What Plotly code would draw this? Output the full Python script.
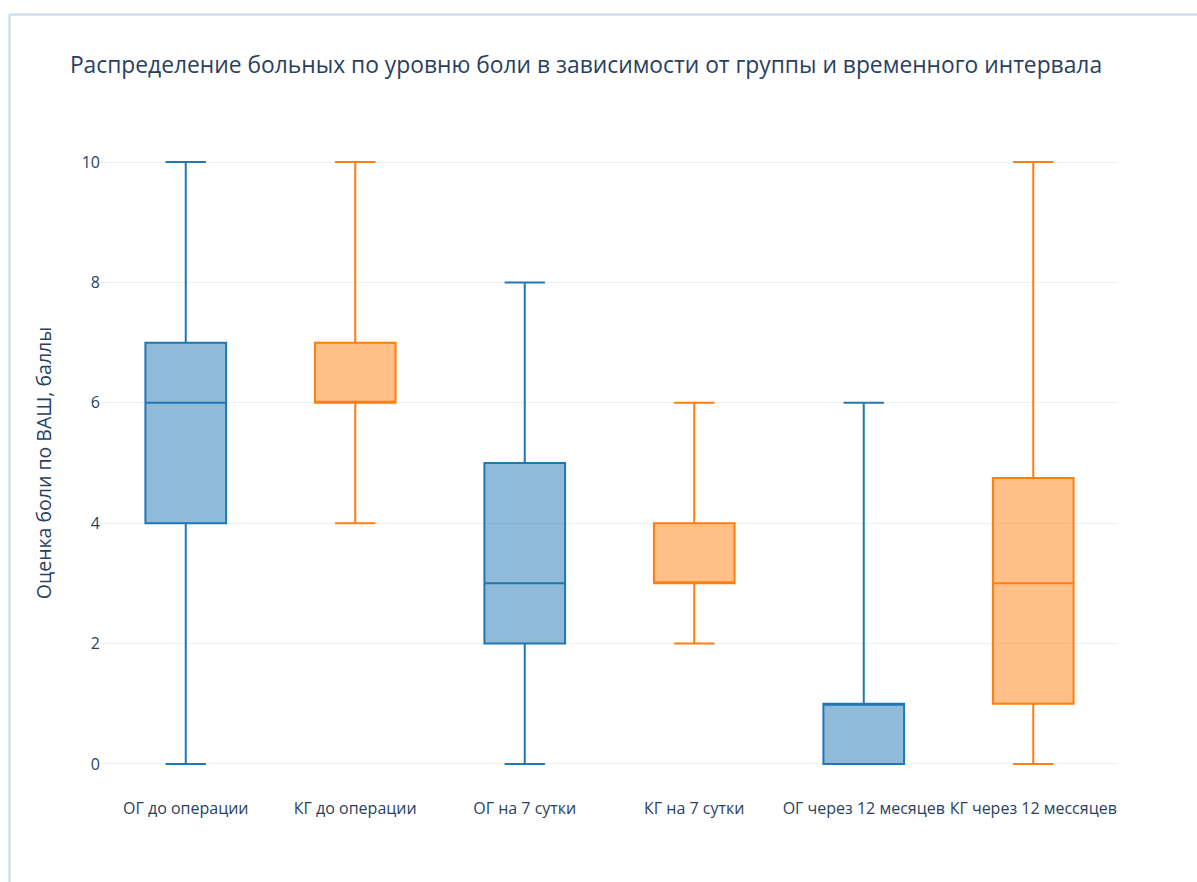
import plotly.graph_objects as go

categories = ["ОГ до операции", "КГ до операции", "ОГ на 7 сутки", "КГ на 7 сутки",
              "ОГ через 12 месяцев", "КГ через 12 мессяцев"]

og_x = [categories[0], categories[2], categories[4]]
og_min = [0, 0, 0]
og_q1 = [4, 2, 0]
og_med = [6, 3, 1]
og_q3 = [7, 5, 1]
og_max = [10, 8, 6]

kg_x = [categories[1], categories[3], categories[5]]
kg_min = [4, 2, 0]
kg_q1 = [6, 3, 1]
kg_med = [6, 3, 3]
kg_q3 = [7, 4, 4.75]
kg_max = [10, 6, 10]

BLUE = "#1f77b4"
ORANGE = "#ff7f0e"

fig = go.Figure()
fig.add_trace(go.Box(name="ОГ", x=og_x, q1=og_q1, median=og_med, q3=og_q3,
                     lowerfence=og_min, upperfence=og_max,
                     marker_color=BLUE, line=dict(color=BLUE, width=2), showlegend=False))
fig.add_trace(go.Box(name="КГ", x=kg_x, q1=kg_q1, median=kg_med, q3=kg_q3,
                     lowerfence=kg_min, upperfence=kg_max,
                     marker_color=ORANGE, line=dict(color=ORANGE, width=2), showlegend=False))

L, R, T, B = 101, 79, 129, 85
W, H = 1197, 882
pw, ph = W - L - R, H - T - B
# decorative frame around the figure
x0 = (9.5 - L) / pw
y1 = 1 + (T - 14.5) / ph
fig.add_shape(type="line", xref="paper", yref="paper", x0=x0, x1=(W + 5 - L) / pw, y0=y1, y1=y1,
              line=dict(color="#c8d8ec", width=2))
fig.add_shape(type="line", xref="paper", yref="paper", x0=x0, x1=x0, y0=y1, y1=-(B + 5) / ph,
              line=dict(color="#c8d8ec", width=2))

fig.update_layout(
    template="plotly_white",
    width=W, height=H,
    margin=dict(l=L, r=R, t=T, b=B),
    font=dict(family="Open Sans", color="#2a3f5f"),
    title=dict(text="Распределение больных по уровню боли в зависимости от группы и временного интервала",
               x=586 / W, xref="container", xanchor="center",
               y=1 - 65 / H, yref="container", yanchor="middle",
               font=dict(size=22.8, color="#2a3f5f")),
    boxmode="overlay",
    boxgap=0.32,
    xaxis=dict(categoryorder="array", categoryarray=categories, tickfont=dict(size=16),
               showgrid=False),
    yaxis=dict(title=dict(text="Оценка боли по ВАШ, баллы", font=dict(size=19.5), standoff=24),
               range=[-0.55, 10.55], tickvals=[0, 2, 4, 6, 8, 10], tickfont=dict(size=16),
               zeroline=False),
)

fig.write_html("out.html")
